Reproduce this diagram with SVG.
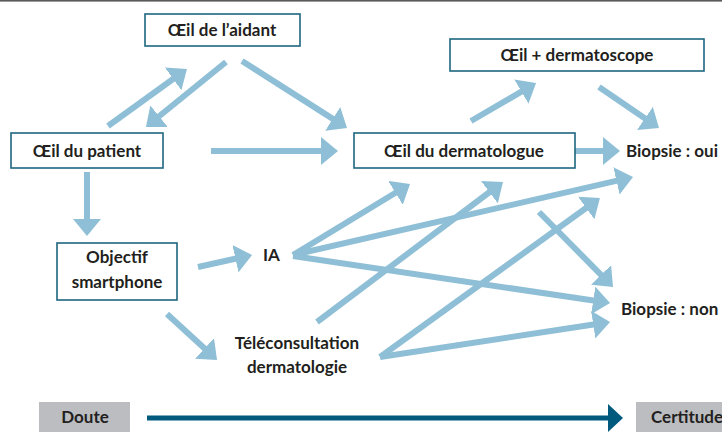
<svg xmlns="http://www.w3.org/2000/svg" width="722" height="432" viewBox="0 0 722 432">
<defs>
<style>
.box{fill:#fff;stroke:#1f6680;stroke-width:1.6}
.tag{fill:#bcbdc0}
.t{font-family:Lato,"Liberation Sans",sans-serif;font-weight:bold;font-size:17px;fill:#231f20}
.c{text-anchor:middle}
.con line{stroke:#8fbfd6;stroke-width:6;marker-end:url(#ah)}
</style>
<marker id="ah" viewBox="0 0 17 28" refX="2" refY="14" markerWidth="17" markerHeight="28" markerUnits="userSpaceOnUse" orient="auto">
<path d="M0,0 L17,14 L0,28 z" fill="#8fbfd6"/>
</marker>
</defs>
<rect x="0" y="0" width="722" height="1.6" fill="#5a5a5a"/>
<g id="connectors" class="con">
<line x1="108" y1="126" x2="174.8" y2="77.8"/>
<line x1="226" y1="62" x2="157.6" y2="117.5"/>
<line x1="242" y1="61" x2="334.4" y2="119.9"/>
<line x1="211" y1="151" x2="323" y2="151"/>
<line x1="87" y1="172" x2="87" y2="221"/>
<line x1="471" y1="121" x2="523.1" y2="90.6"/>
<line x1="599" y1="87" x2="646.6" y2="119.5"/>
<line x1="575" y1="151" x2="605" y2="151"/>
<line x1="198" y1="267" x2="237.4" y2="258.3"/>
<line x1="167" y1="314" x2="206" y2="349.8"/>
<line x1="293" y1="255" x2="397.2" y2="191.8"/>
<line x1="293" y1="255" x2="618.4" y2="180.4"/>
<line x1="293" y1="256" x2="595.2" y2="300.8"/>
<line x1="317" y1="322" x2="491" y2="191"/>
<line x1="380" y1="357" x2="587.8" y2="206.8"/>
<line x1="380" y1="357" x2="595.2" y2="324.3"/>
<line x1="539" y1="212" x2="602.5" y2="276.3"/>
</g>
<g id="aidant"><rect class="box" x="145" y="14" width="155" height="32"/><text class="t c" x="222" y="36">Œil de l’aidant</text></g>
<g id="patient"><rect class="box" x="11" y="133" width="152" height="35"/><text class="t c" x="87" y="157">Œil du patient</text></g>
<g id="dermatoscope"><rect class="box" x="450" y="39" width="254" height="32"/><text class="t c" x="577" y="61">Œil + dermatoscope</text></g>
<g id="dermatologue"><rect class="box" x="354" y="133" width="221" height="35"/><text class="t c" x="464" y="157">Œil du dermatologue</text></g>
<g id="biopsie-oui"><text class="t" x="626" y="157">Biopsie : oui</text></g>
<g id="objectif"><rect class="box" x="57" y="243" width="120" height="57"/><text class="t c" x="117" y="263">Objectif</text><text class="t c" x="117" y="288">smartphone</text></g>
<g id="ia"><text class="t" x="263" y="261">IA</text></g>
<g id="teleconsultation"><text class="t c" x="297" y="349">Téléconsultation</text><text class="t c" x="297" y="373">dermatologie</text></g>
<g id="biopsie-non"><text class="t" x="621" y="315">Biopsie : non</text></g>
<g id="scale">
<rect class="tag" x="39" y="402" width="91" height="32"/>
<text class="t c" x="85" y="423">Doute</text>
<line x1="147" y1="418" x2="609" y2="418" stroke="#005a7e" stroke-width="5"/>
<path d="M608,404 L623,418 L608,432 z" fill="#005a7e"/>
<rect class="tag" x="636" y="402" width="90" height="32"/>
<text class="t" x="651" y="423">Certitude</text>
</g>
</svg>
